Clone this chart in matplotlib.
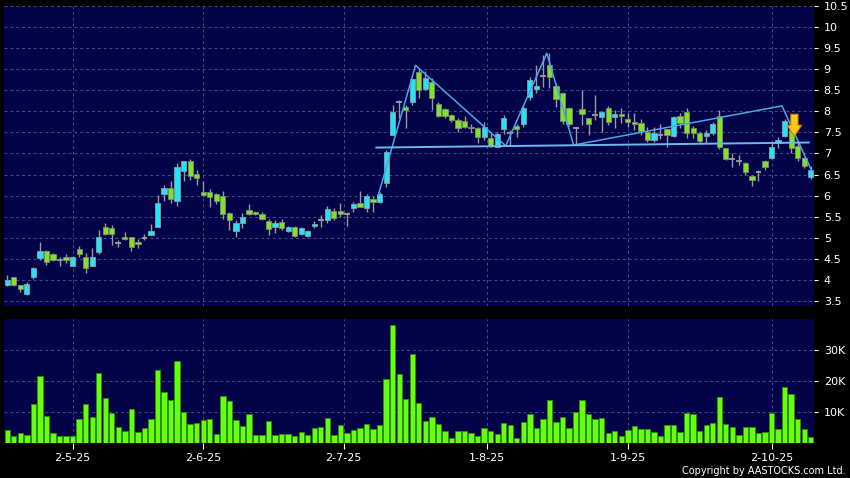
import numpy as np
import matplotlib
matplotlib.use('Agg')
from matplotlib import pyplot as plt
from matplotlib import patches

# daily candles (oldest first)
opens = [3.87, 4.06, 3.87, 3.66, 4.06, 4.51, 4.69, 4.61, 4.47, 4.54,
         4.34, 4.73, 4.55, 4.34, 4.65, 5.26, 5.22, 4.88, 5.01, 5.01,
         4.89, 5.00, 5.07, 5.26, 6.03, 6.19, 5.88, 6.59, 6.81, 6.51,
         6.09, 6.09, 6.03, 5.99, 5.58, 5.17, 5.34, 5.65, 5.61, 5.56,
         5.40, 5.26, 5.37, 5.17, 5.25, 5.08, 5.05, 5.27, 5.41, 5.42,
         5.64, 5.64, 5.56, 5.71, 5.82, 5.71, 5.92, 5.84, 6.29, 7.45,
         8.22, 8.10, 8.21, 8.93, 8.53, 8.70, 8.17, 8.05, 7.91, 7.79,
         7.77, 7.64, 7.60, 7.38, 7.36, 7.16, 7.57, 7.48, 7.66, 7.69,
         8.35, 8.52, 8.84, 9.10, 8.60, 8.43, 8.07, 7.60, 8.05, 7.83,
         7.91, 7.87, 8.09, 7.87, 7.94, 7.81, 7.74, 7.72, 7.52, 7.31,
         7.44, 7.57, 7.41, 7.90, 7.99, 7.60, 7.49, 7.42, 7.49, 7.88,
         7.12, 6.87, 6.83, 6.78, 6.47, 6.55, 6.82, 6.89, 7.24, 7.42,
         7.56, 7.18, 6.89, 6.43]
highs = [4.11, 4.08, 3.88, 3.94, 4.30, 4.90, 4.71, 4.63, 4.55, 4.61,
         4.57, 4.80, 4.63, 4.75, 5.18, 5.36, 5.30, 4.95, 5.13, 5.02,
         4.97, 5.10, 5.33, 6.01, 6.25, 6.35, 6.77, 6.83, 6.86, 6.61,
         6.35, 6.15, 6.05, 6.11, 5.60, 5.42, 5.58, 5.79, 5.63, 5.62,
         5.45, 5.42, 5.45, 5.28, 5.28, 5.26, 5.18, 5.40, 5.54, 5.76,
         5.70, 5.82, 5.62, 5.86, 6.11, 6.03, 5.98, 6.09, 7.08, 8.15,
         8.27, 8.15, 8.80, 9.02, 8.95, 8.78, 8.23, 8.07, 7.93, 7.84,
         7.90, 7.70, 7.62, 7.74, 7.50, 7.50, 7.91, 7.56, 7.71, 8.15,
         8.82, 9.10, 9.34, 9.38, 8.67, 8.45, 8.10, 7.62, 8.51, 7.85,
         8.39, 8.00, 8.12, 8.03, 8.07, 7.95, 7.97, 7.81, 7.62, 7.64,
         7.70, 7.59, 7.90, 7.95, 8.07, 7.66, 7.52, 7.56, 7.75, 8.03,
         7.14, 7.00, 6.96, 6.80, 6.48, 6.61, 6.85, 7.28, 7.40, 7.82,
         7.58, 7.24, 6.91, 6.70]
lows = [3.86, 3.86, 3.72, 3.65, 4.02, 4.48, 4.35, 4.44, 4.34, 4.39,
        4.33, 4.55, 4.16, 4.33, 4.61, 5.06, 4.83, 4.79, 4.95, 4.69,
        4.76, 4.95, 5.06, 5.25, 5.88, 5.83, 5.76, 6.35, 6.37, 6.25,
        6.00, 5.74, 5.80, 5.44, 5.18, 5.01, 5.22, 5.55, 5.54, 5.41,
        5.07, 5.11, 5.18, 5.14, 5.01, 5.07, 5.01, 5.24, 5.26, 5.34,
        5.42, 5.50, 5.29, 5.62, 5.72, 5.62, 5.62, 5.82, 6.21, 7.43,
        7.85, 7.61, 8.15, 8.32, 8.50, 8.03, 7.87, 7.85, 7.74, 7.51,
        7.60, 7.49, 7.24, 7.32, 7.16, 7.15, 7.46, 7.18, 7.40, 7.64,
        8.27, 8.43, 8.58, 8.55, 8.11, 7.70, 7.65, 7.20, 7.68, 7.44,
        7.79, 7.52, 7.68, 7.60, 7.72, 7.64, 7.56, 7.44, 7.28, 7.28,
        7.34, 7.16, 7.38, 7.60, 7.36, 7.36, 7.24, 7.24, 7.44, 7.10,
        6.85, 6.67, 6.73, 6.50, 6.23, 6.35, 6.60, 6.86, 7.12, 7.40,
        7.00, 6.81, 6.66, 6.39]
closes = [4.00, 3.89, 3.78, 3.90, 4.28, 4.69, 4.43, 4.46, 4.50, 4.47,
          4.54, 4.61, 4.28, 4.54, 5.01, 5.08, 5.08, 4.88, 4.97, 4.79,
          4.85, 5.00, 5.16, 5.82, 6.17, 5.93, 6.69, 6.81, 6.47, 6.41,
          6.01, 5.97, 5.87, 5.56, 5.41, 5.34, 5.49, 5.56, 5.57, 5.45,
          5.20, 5.34, 5.24, 5.25, 5.05, 5.22, 5.17, 5.32, 5.41, 5.68,
          5.48, 5.56, 5.56, 5.79, 5.74, 5.98, 5.84, 6.03, 7.03, 7.99,
          8.22, 8.02, 8.76, 8.51, 8.78, 8.31, 7.89, 7.89, 7.79, 7.60,
          7.63, 7.60, 7.38, 7.64, 7.18, 7.46, 7.83, 7.48, 7.57, 8.09,
          8.74, 8.60, 8.84, 8.81, 8.29, 7.76, 7.70, 7.60, 7.93, 7.69,
          7.91, 7.99, 7.75, 7.93, 7.89, 7.75, 7.69, 7.53, 7.31, 7.49,
          7.44, 7.44, 7.86, 7.72, 7.48, 7.49, 7.30, 7.49, 7.69, 7.15,
          6.86, 6.87, 6.83, 6.55, 6.37, 6.55, 6.67, 7.15, 7.32, 7.78,
          7.12, 6.89, 6.70, 6.61]
# volume in thousands of shares
volume = [4.3, 2.4, 3.2, 2.6, 12.8, 21.7, 8.9, 3.2, 2.2, 2.2,
          2.2, 7.8, 12.7, 8.4, 22.8, 14.6, 9.9, 5.4, 4.1, 11.2,
          3.7, 4.9, 8.0, 23.5, 16.6, 14.1, 26.6, 10.1, 6.3, 6.6,
          7.6, 8.0, 3.0, 15.1, 13.5, 7.5, 5.5, 9.6, 2.7, 2.7,
          7.2, 2.7, 3.0, 3.0, 2.4, 3.7, 2.6, 4.9, 5.3, 8.1,
          2.8, 5.9, 3.3, 4.3, 4.8, 6.2, 4.7, 5.9, 20.9, 38.2,
          22.5, 14.3, 28.9, 12.9, 7.1, 8.5, 6.2, 3.9, 1.7, 4.1,
          3.9, 3.2, 2.4, 4.8, 4.1, 3.0, 6.6, 5.8, 1.7, 6.9,
          9.5, 4.8, 7.8, 14.0, 6.9, 8.4, 4.9, 10.0, 13.9, 9.5,
          8.0, 8.3, 3.2, 3.9, 2.4, 4.3, 5.5, 4.6, 4.6, 3.8,
          2.4, 5.9, 6.0, 3.5, 9.7, 9.5, 4.0, 6.0, 6.6, 14.8,
          6.3, 5.2, 2.6, 5.2, 5.2, 3.4, 3.7, 9.9, 4.7, 18.3,
          15.9, 7.8, 4.7, 1.9]

date_pos = [10, 30, 51.5, 73.5, 95, 117]
date_labels = ['2-5-25', '2-6-25', '2-7-25', '1-8-25', '1-9-25', '2-10-25']

# drawn pattern lines (bar index, price)
zig_x = [56.8, 62.5, 76.3, 82.6, 86.7, 118.6, 123.2]
zig_y = [6.01, 9.09, 7.18, 9.38, 7.20, 8.13, 6.57]
neck_x = [56.5, 122.7]
neck_y = [7.14, 7.26]
signal_bar = 120.5

o = np.array(opens)
h = np.array(highs)
l = np.array(lows)
c = np.array(closes)
v = np.array(volume) * 1000
idx = np.arange(len(o))

navy = '#020248'
gridc = '#4c4c80'
dash = (0, (3, 3))

fig = plt.figure(figsize=(8.5, 4.78), dpi=100, facecolor='black')
ax = fig.add_axes([4 / 850, 1 - 306 / 478, 810 / 850, 300 / 478])
axv = fig.add_axes([4 / 850, 1 - 443.3 / 478, 810 / 850, 124.3 / 478], sharex=ax)

for a in (ax, axv):
    a.set_facecolor(navy)
    for s in a.spines.values():
        s.set_visible(False)
    a.yaxis.tick_right()
    a.tick_params(axis='y', colors='white', labelsize=8, length=3, pad=4)
    a.grid(True, color=gridc, linestyle=dash, linewidth=0.7)
    a.set_axisbelow(True)

# candles
ax.vlines(idx, l, h, color='#9a9a9a', linewidth=1, zorder=2)
up = c > o
dn = c < o
dj = c == o
ax.bar(idx[up], (c - o)[up], bottom=o[up], width=0.8, color='#22e4f4',
       edgecolor='#8c9ca4', linewidth=0.6, zorder=3)
ax.bar(idx[dn], (o - c)[dn], bottom=c[dn], width=0.8, color='#80e22a',
       edgecolor='#7a8a70', linewidth=0.6, zorder=3)
ax.hlines(c[dj], idx[dj] - 0.45, idx[dj] + 0.45, color='#a0a0a0', linewidth=1.3, zorder=3)

ax.plot(zig_x, zig_y, color='#4aa6e6', linewidth=1.1, zorder=4)
ax.plot(neck_x, neck_y, color='#6cb8ee', linewidth=1.4, zorder=4)

arrow = patches.FancyArrow(signal_bar, 7.93, 0, -0.52, width=1.1, head_width=2.2,
                           head_length=0.26, length_includes_head=True,
                           facecolor='#ffcc1e', edgecolor='#e07a00', linewidth=0.8, zorder=5)
ax.add_patch(arrow)

ax.set_ylim(3.38, 10.5)
ax.set_yticks(np.arange(3.5, 10.51, 0.5))
ax.set_yticklabels(['%g' % t for t in np.arange(3.5, 10.51, 0.5)])
ax.set_xlim(-0.5, 123.5)
ax.set_xticks(date_pos)
ax.tick_params(axis='x', length=0, labelbottom=False)

# volume
axv.bar(idx, v, width=0.82, color='#66ff11', edgecolor='#2f8f00', linewidth=0.6, zorder=3)
axv.set_ylim(0, 40100)
axv.set_yticks([10000, 20000, 30000])
axv.set_yticklabels(['10K', '20K', '30K'])
axv.set_xticks(date_pos)
axv.set_xticklabels(date_labels)
axv.tick_params(axis='x', colors='white', labelsize=8, length=4, pad=3)

fig.text(846 / 850, 1 - 471 / 478, 'Copyright by AASTOCKS.com Ltd.', ha='right', va='center',
         color='white', fontsize=7)

fig.savefig('out.png', dpi=100, facecolor='black')
